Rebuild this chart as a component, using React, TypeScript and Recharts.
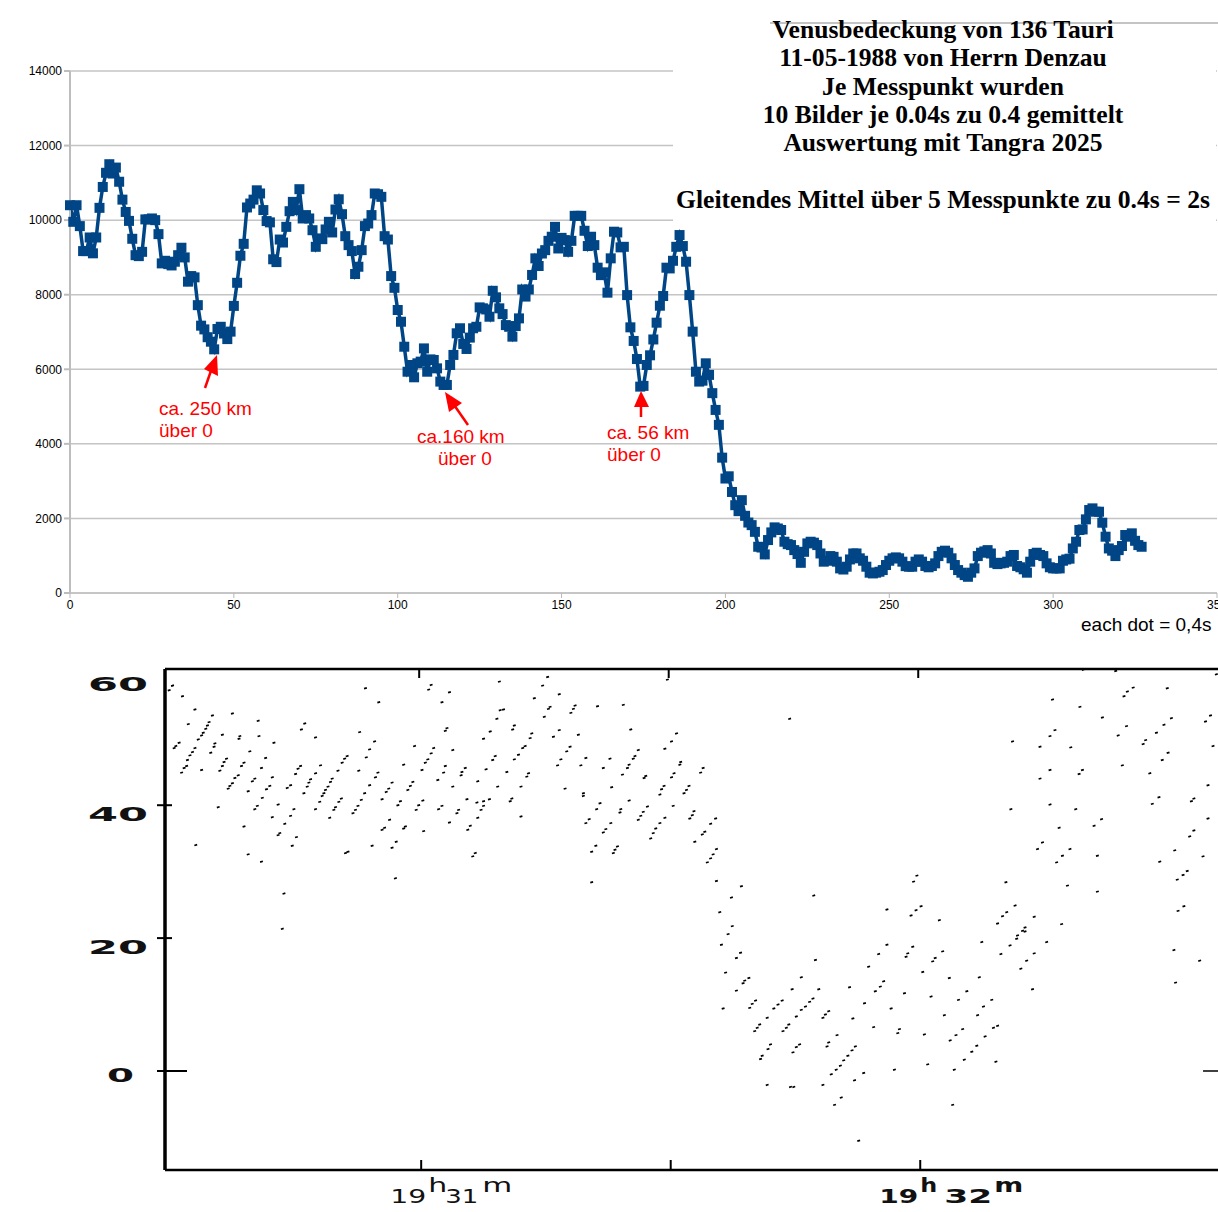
import React from 'react';
import { LineChart, Line, ScatterChart, Scatter, XAxis, YAxis, CartesianGrid, ReferenceLine } from 'recharts';

const intensityFirstDip = [
  10400, 9955, 10400, 9840, 9170, 9170, 9535, 9110, 9535, 10330, 10890, 11270, 11500, 11250, 11410, 11030,
  10550, 10220, 9980, 9500, 9060, 9035, 9150, 10020, 10020, 10045, 10000, 9625, 8840, 8910, 8820, 8785,
  8885, 9060, 9260, 9000, 8350, 8500, 8465, 7720, 7170, 7070, 6860, 6740, 6535, 7080, 7140, 6960,
  6810, 7010, 7700, 8320, 9045, 9365, 10340, 10445, 10550, 10800, 10715, 10270, 9975, 9940, 8950, 8875,
  9480, 9400, 9820, 10240, 10490,
];
const intensitySecondDip = [
  10270, 10830, 10045, 10135, 10045, 9730, 9285, 9510, 9490, 9750, 9955, 9670, 10285, 10560, 10160, 9570,
  9330, 9170, 8555, 8750, 9195, 9840, 9910, 10135, 10715, 10695, 10625, 9570, 9480, 8500, 8185, 7590,
  7275, 6605, 5935, 6115, 5785, 6160, 6205, 6560, 5935, 6265, 6250, 6025, 5670, 5580, 5580, 6115,
  6385, 6965, 7100, 6680, 6545, 6850, 7100, 7140, 7660, 7635, 7605, 7410, 8105, 7930, 7635, 7480,
  7185, 7140,
];
const intensityThirdDip = [
  6875, 7160, 7365, 8140, 7950, 8140, 8530, 8975, 8770, 9105, 9195, 9445, 9555, 9820, 9240, 9525,
  9465, 9150, 9445, 10115, 10115, 10115, 9715, 9305, 9555, 9330, 8725, 8525, 8600, 8055, 8975, 9690,
  9670, 9270, 9285, 7990, 7125, 6760, 6275, 5535, 5555, 6115, 6375, 6800, 7250, 7705, 7965, 8725,
  8705, 8910, 9285, 9600, 9305, 8885, 7990, 7010, 5935, 5670, 5695, 6160, 5850, 5360, 4910, 4510,
];
const intensityTail = [
  3630, 3070, 3130, 2710, 2355, 2195, 2490, 2070, 1890, 1820, 1640, 1240, 1220, 1035, 1420, 1625,
  1760, 1730, 1690, 1375, 1310, 1285, 1150, 1045, 810, 1105, 1330, 1375, 1350, 1285, 1060, 840,
  865, 990, 970, 840, 660, 630, 705, 900, 1060, 1060, 930, 865, 705, 545, 525, 545,
  570, 615, 750, 865, 930, 955, 930, 840, 720, 705, 705, 840, 900, 840, 725, 690,
  725, 795, 990, 1105, 1135, 1080, 930, 750, 615, 545, 480, 435, 545, 660, 990, 1080,
  1115, 1150, 1060, 810, 775, 795, 810, 840, 990, 1020, 725, 690, 635, 545, 840, 1045,
  1080, 1020, 990, 795, 690, 660, 660, 660, 865, 900, 920, 1195, 1375, 1690, 1705, 1975,
  2225, 2270, 2180, 2180, 1885, 1510, 1195, 1135, 990, 1150, 1260, 1555, 1510, 1600, 1400, 1285,
  1240,
];
const intensity = [...intensityFirstDip, ...intensitySecondDip, ...intensityThirdDip, ...intensityTail];

const pointTicks = [0, 50, 100, 150, 200, 250, 300, 350];
const intensityTicks = [0, 2000, 4000, 6000, 8000, 10000, 12000, 14000];

const titleLines = [
  'Venusbedeckung von 136 Tauri',
  '11-05-1988 von Herrn Denzau',
  'Je Messpunkt wurden',
  '10 Bilder je 0.04s zu 0.4 gemittelt',
  'Auswertung mit Tangra 2025',
  '\u00a0',
  'Gleitendes Mittel über 5 Messpunkte zu 0.4s = 2s',
];

// old photometer record: [seconds after 19h31m, km]
const dotsBeforeMinute: [number, number][] = [
  [-29.9,58],[-30.3,57.3],[-28.7,56.4],[-27.2,54.4],[-25.1,53.5],[-22.7,53.8],[-19.6,52.7],[-25.5,52.5],[-25.7,52],[-25.9,51.5],
  [-26.2,50.9],[-26.4,50.5],[-26.8,49.9],[-28,52.2],[-29.1,49.4],[-29.5,48.9],[-29.7,48.6],[-27.2,48.6],[-27.5,48],[-27.8,47.5],
  [-28.1,46.8],[-28.2,45.9],[-28.5,45.6],[-28.8,44.9],[-26.4,45.3],[-24.8,49.3],[-24.9,48.8],[-25.3,47.9],[-23.9,50.6],[-21.8,50.4],
  [-21.9,50],[-19.5,50.4],[-17.7,49.4],[-20.6,48.1],[-23.4,47],[-23.7,46.5],[-23.9,45.9],[-24.2,45.2],[-21.3,46.4],[-21.6,45.9],
  [-18.7,47.1],[-19.2,45.6],[-22,44.5],[-22.4,44.1],[-22.7,43.3],[-23,42.9],[-23.2,42.5],[-20,44],[-20.3,43.6],[-17.9,44.2],
  [-18.2,42.9],[-18.6,42.4],[-20.8,42.1],[-15.7,43],[-16.1,42.6],[-14.5,45.9],[-14.8,45.5],[-15.1,44.7],[-12.1,46],[-12.7,44.8],
  [-13.3,43.9],[-13.5,43.4],[-13.7,42.8],[-14.1,41.8],[-10.7,44],[-10.9,43.5],[-11.2,42.8],[-11.5,42.3],[-11.7,41.8],[-11.9,41.4],
  [-10,45.2],[-8.9,47.4],[-9.2,47],[-9.5,46.4],[-7.5,45.2],[-6.6,47.2],[-6.2,48.4],[-5.6,49.6],[-7.4,51],[-14,52.3],
  [-14.4,51.4],[-12.7,50.2],[-6.7,57.6],[-5.1,55.5],[-5.2,44.9],[-5.5,44.2],[-6.2,43],[-6.8,41.8],[-7.2,40.8],[-7.6,39.9],
  [-7.9,39.3],[-8.2,38.8],[-9.6,41],[-9.9,40.5],[-10.3,39.7],[-10.5,39.3],[-11,38.1],[-12.2,40.5],[-12.7,39.4],[-3.5,43.4],
  [-3.9,42.5],[-4.2,42],[-4.7,40.9],[-1,43.5],[-1.3,42.9],[-1.6,42.3],[-2.1,46.1],[-2.5,40.6],[-2.8,40],[-0.3,40],
  [-0.6,39.3],[-0.8,48.9],[-3.8,37.8],[-1.9,36.8],[-2.1,36.5],[-4.4,36.6],[-4.7,36.3],[-3,34.5],[-3.5,33.6],[-5.9,33.9],
  [-8.8,33],[-9.1,32.8],[-3.1,29],[-24.4,39.7],[-19.7,39.9],[-20,39.4],[-17.2,40.1],[-15.3,39.4],[-15.7,38.4],[-17.9,38.2],
  [-16.4,37.2],[-21.3,36.8],[-17,35.8],[-17.2,35.5],[-15,35.2],[-15.5,33.9],[-27.1,34],[-20.8,32.6],[-19.2,31.5],[-16.5,26.7],
  [-16.7,21.4],[-19.1,41.1],
];
const dotsAfterMinute: [number, number][] = [
  [1.2,58.1],[0.9,57.4],[3.4,57],[2.5,55.5],[9.4,58.6],[15.2,59.3],[14.6,58],[16.6,56.7],[13.6,56.1],[9.9,54.4],
  [9.5,54.3],[9.1,53],[15.5,54.8],[15.3,54.5],[14.8,53.3],[18.5,55],[18.3,54.5],[18,53.9],[3.1,51.6],[2.9,51.2],
  [11.2,52],[11,51.4],[8.3,51.1],[7.5,50],[13.3,50.8],[13.1,50.1],[15.9,50.3],[16.6,51.3],[18.9,50.6],[1.5,48.6],
  [1.2,47.8],[0.8,46.9],[0.5,46.4],[3.8,48.3],[12.5,48.9],[12.2,48.6],[11.7,47.6],[11.2,46.9],[8.9,47.4],[8.6,46.8],
  [17.9,48.8],[17.5,48.1],[16.8,46.9],[16.4,46],[2.9,45.9],[2.7,44.9],[5.3,45.6],[4.9,45],[4.8,44.5],[0.1,45.3],
  [2,43.8],[3.8,42.8],[6.8,43.6],[9.2,42.8],[10.3,45],[12.9,44.8],[12.7,44.3],[12,42.8],[7.8,45.4],[17.3,42.5],
  [5.5,40.9],[8.2,40.9],[7.5,40.6],[6.7,40.4],[10.9,41],[10.7,40.6],[0.2,40.7],[2.5,39.9],[2.1,39.4],[4.5,39.3],
  [4.3,38.8],[7.5,39.9],[7.2,39.3],[6.8,38.1],[12,38.3],[0.3,36.1],[3.4,37.4],[5.9,36.9],[5.6,36.3],[6.5,32.8],
  [6.2,32.3],[21.2,54.9],[24.3,55.1],[25.2,51.4],[30.7,50.8],[30.1,49.6],[29.3,48.5],[26.1,48.3],[25.7,47.4],[25.5,47],
  [25,46.1],[24.8,45.6],[24.2,44.6],[19.8,47.1],[22.7,47],[19.2,46],[21.9,45.6],[27,44.4],[26.8,44.1],[31.2,46.5],
  [31.1,46.1],[30.4,44.8],[30.1,44.2],[33.9,45.6],[33.6,44.9],[22.9,42.7],[19.5,41.8],[19.5,41.4],[29.2,42.9],[28.9,42.4],
  [28.7,41.6],[32.2,42.9],[31.9,42.3],[31.6,41.8],[25,40.7],[21.5,40.3],[21.1,39.4],[24,39.4],[23.9,38.9],[27.2,39.8],
  [26.7,39],[26.4,38.4],[26.1,37.8],[30.3,39.9],[29.3,38.1],[28.7,37.3],[28.2,36.5],[27.9,35.8],[27.6,35],[32.8,39.1],
  [32.6,38.5],[32.3,38],[35.4,38],[34.8,37.2],[34.1,36],[33.8,35.6],[32.9,34.5],[22.8,37.3],[22.2,36.4],[21.9,35.9],
  [20.2,37.9],[19.8,37.3],[21,33.9],[20.5,33],[23.6,33.8],[23.3,33.3],[23.1,32.8],[35.5,33.4],[35.1,32.6],[34.8,32],
  [34.4,31.4],[20.5,28.4],[35.5,28.6],[38.5,27.8],[37.3,26.1],[35.9,23.9],[37.4,21.8],[36.9,20.6],[47.2,26.4],[44.3,53],
  [29.6,58.9],
];
const dotsDipFloor: [number, number][] = [
  [36.1,19],[38.4,17.8],[37.9,17],[47.4,16.7],[36.6,14.8],[39.4,14],[38.9,13.6],[38.7,13.2],[45.7,14.1],[37.9,12.1],
  [44.6,12.3],[47.8,12.3],[51.5,12.6],[40.2,10.6],[39.8,10.1],[39.5,9.5],[43.4,10.6],[42.9,10],[42.4,9.4],[47.1,10.9],
  [46.7,10.4],[46.2,9.7],[45.7,9.2],[36.3,9.4],[49,9],[48.6,8.5],[48.3,8],[45.1,8.2],[41.6,8],[40.7,7],
  [40.4,6.5],[40.1,6],[44.2,7],[43.9,6.5],[43.5,6],[51.9,7.9],[50,5.4],[54.4,6.6],[57.5,6.3],[57.3,5.7],
  [60.5,5.5],[42,4],[41.7,3.3],[41,2.3],[40.8,1.8],[45.5,4],[45.1,3.6],[44.7,2.8],[49,4.3],[48.8,3.7],
  [52.2,3.7],[51.8,3.1],[51.3,2.3],[50.8,1.6],[50.4,0.8],[49.9,0.2],[49.3,-0.5],[53.2,-0.3],[52.1,-1.4],[56.9,0.2],
  [60.9,1],[64.1,0.2],[66.8,3.8],[66.2,2.9],[65.3,1.7],[69.1,1.4],[65.1,6.3],[64.3,5.4],[63.6,4.6],[69.3,6.8],
  [68.8,6.5],[67.8,5.2],[62.9,8.4],[66.9,8.4],[68.6,10.7],[67.6,9.7],[64.6,10.7],[65.6,12],[61.3,11.2],[56.5,9.4],
  [53.3,10.2],[58.1,11.7],[55.6,13.5],[55.2,12.7],[54.6,12],[63.5,14],[67.1,14.1],[60.3,14.9],[53.8,15.7],[62.7,18],
  [61.8,17],[61.5,16.5],[58.5,17.7],[58.3,17.2],[59.1,18.7],[56,19],[55,17.6],[67.4,19.4],[72.6,21],[71.6,19.9],
  [70.8,18.9],[69.7,17.6],[75.2,19.4],[73.7,17.7],[72.8,16.6],[72.1,15.4],[73.5,12.3],[90.5,18.2],[93.6,16.6],[90.7,13.3],
  [41.6,-2.1],[44.4,-2.4],[44.8,-2.4],[48.3,-2.1],[50.5,-4],[49.7,-5.1],[63.9,-5.1],[52.6,-10.5],
];
const dotsRise: [number, number][] = [
  [59.6,29.4],[59.2,28.5],[56,24.3],[60.1,24.8],[59.5,24.2],[58.9,23.4],[62.3,22.7],[70.3,28.4],[71.4,24.9],[70.4,23.9],
  [69.9,23.3],[69.3,22.2],[73.7,23.2],[72.6,21.6],[72.3,21.1],[71.7,20.4],[77,22.1],[75.9,55.9],[79.2,54.8],[81.9,53.2],
  [84.8,51.9],[83.8,50.5],[76.2,51.3],[75.6,50.4],[71.1,49.6],[74.4,48.8],[78.1,48.7],[85.6,57.7],[84.9,57.1],[84.5,56.4],
  [89.7,57.6],[83.5,60.2],[79.6,60.4],[95.6,59.7],[90.2,53.1],[89.3,52.1],[88.4,50.9],[87.1,49.8],[86.8,49.2],[94.9,53.5],
  [94.3,52.6],[89.8,47.9],[89.1,46.8],[84.3,46],[87.6,44.8],[79.5,45.3],[79.1,44.7],[75.6,45.3],[74.4,44],[95.2,48.9],
  [94.6,43],[88.7,41.2],[87.9,40.2],[92.9,41],[92.6,40.6],[70.9,39.4],[75.6,40.1],[78.7,39.4],[81.8,37.9],[80.9,36.9],
  [76.7,36.6],[94.6,38],[92.9,36.2],[92.4,35.3],[74.7,34.4],[74.1,33.4],[78,33.4],[77.1,32.4],[76.4,31.4],[81.3,32.4],
  [90.6,33.2],[88.8,31.5],[94,32.3],[92.1,30.1],[91.6,29.5],[90.9,28.8],[77.7,27.9],[81.3,27],[91.7,24.8],[91,24.1],
];
const timeTicks = [0, 30, 60];
const kmTicks = [0, 20, 40, 60];

const intensityRows = intensity.map((value, point) => ({ point, value }));
const dotRows = [...dotsBeforeMinute, ...dotsAfterMinute, ...dotsDipFloor, ...dotsRise].map(([t, km]) => ({ t, km }));

const SquareDot = (props: any) => (
  <rect key={props.index} x={props.cx - 5} y={props.cy - 5} width={10} height={10} fill="#004586" />
);

const RecordDot = (props: any) => (
  <line x1={props.cx - 1.4} y1={props.cy + 0.4} x2={props.cx + 1.4} y2={props.cy - 0.4} stroke="#000" strokeWidth={1.7} />
);

const recordFont = "'DejaVu Sans', sans-serif";

const KmTick = ({ x, y, payload }: any) => {
  const v = payload.value;
  const drop = v === 0 ? 11 : v === 60 ? 19 : 16;
  const inner = v === 60 ? 0 : v === 0 ? 30 : 15;
  return (
    <g>
      <line x1={x} y1={y} x2={x + inner} y2={y} stroke="#000" strokeWidth={2} />
      <text
        x={v === 0 ? x - 50 : x - 69}
        y={y + drop}
        fontFamily={recordFont}
        fontSize={20}
        fontWeight={700}
        fill="#111"
        textLength={v === 0 ? 27 : 60}
        lengthAdjust="spacingAndGlyphs"
      >
        {v}
      </text>
    </g>
  );
};

const TopTick = ({ x, y }: any) => <line x1={x - 2} y1={y + 8} x2={x - 2} y2={y + 17} stroke="#000" strokeWidth={2} />;

const TimeTick = ({ x, y, payload }: any) => {
  const v = payload.value;
  const mark = <line x1={x} y1={y - 8} x2={x} y2={y - 18} stroke="#000" strokeWidth={2} />;
  if (v === 30) return <g>{mark}</g>;
  const small = v === 0;
  const piece = (text: string, dx: number, w: number, dy: number) => (
    <text
      x={x + dx}
      y={y + dy}
      fontFamily={recordFont}
      fontSize={20}
      fill="#111"
      textLength={w}
      lengthAdjust="spacingAndGlyphs"
    >
      {text}
    </text>
  );
  return (
    <g fontWeight={small ? 400 : 700}>
      {mark}
      {piece('19', small ? -31 : -41, small ? 36 : 39, 25)}
      {piece('h', small ? 7 : 0, small ? 19 : 17, 14)}
      {piece(small ? '31' : '32', 24, small ? 33 : 48, 25)}
      {piece('m', small ? 61 : 74, small ? 30 : 29, 14)}
    </g>
  );
};

const redNote: React.CSSProperties = {
  position: 'absolute',
  color: '#f00',
  fontFamily: "'Liberation Sans', sans-serif",
  fontSize: 19,
  lineHeight: '22px',
  whiteSpace: 'nowrap',
};

const App = () => (
  <div style={{ position: 'absolute', left: 0, top: 0, width: 1218, height: 1212, overflow: 'hidden', background: '#fff' }}>
    <div style={{ position: 'absolute', left: 0, top: 0 }}>
      <LineChart width={1218} height={640} data={intensityRows} margin={{ top: 71, right: 1, bottom: 0, left: 0 }}>
        <CartesianGrid vertical={false} stroke="#c4c4c4" strokeWidth={1.5} />
        <XAxis
          dataKey="point"
          type="number"
          domain={[0, 350]}
          ticks={pointTicks}
          interval={0}
          height={47}
          stroke="#b8b8b8"
          tickSize={5}
          tick={{ fill: '#000', fontSize: 12, fontFamily: 'Liberation Sans' }}
        />
        <YAxis
          type="number"
          domain={[0, 14000]}
          ticks={intensityTicks}
          interval={0}
          width={70}
          stroke="#bdbdbd"
          strokeWidth={2}
          tickSize={6}
          tick={{ fill: '#000', fontSize: 12, fontFamily: 'Liberation Sans' }}
        />
        <Line
          dataKey="value"
          stroke="#004586"
          strokeWidth={3.5}
          dot={SquareDot}
          isAnimationActive={false}
        />
      </LineChart>
    </div>

    <div style={{ position: 'absolute', left: 0, top: 0 }}>
      <ScatterChart width={1218} height={1212} margin={{ top: 668, right: 0, bottom: 0, left: 0 }}>
        <XAxis
          xAxisId="bottom"
          dataKey="t"
          type="number"
          domain={[-30.8, 95.8]}
          allowDataOverflow
          ticks={timeTicks}
          interval={0}
          height={42}
          stroke="#000"
          strokeWidth={2.5}
          tickLine={false}
          tick={TimeTick}
        />
        <XAxis
          xAxisId="top"
          orientation="top"
          dataKey="t"
          type="number"
          domain={[-30.8, 95.8]}
          allowDataOverflow
          ticks={timeTicks}
          interval={0}
          height={1}
          stroke="#000"
          strokeWidth={2.5}
          tickLine={false}
          tick={TopTick}
        />
        <YAxis
          dataKey="km"
          type="number"
          domain={[-14.9, 60.5]}
          allowDataOverflow
          ticks={kmTicks}
          interval={0}
          width={165}
          stroke="#000"
          strokeWidth={3.5}
          tickLine={false}
          tick={KmTick}
        />
        <Scatter xAxisId="bottom" data={dotRows} shape={RecordDot} isAnimationActive={false} />
        <Scatter xAxisId="top" data={dotRows.slice(0, 1)} shape={RecordDot} isAnimationActive={false} />
        <ReferenceLine
          xAxisId="bottom"
          segment={[{ x: 94, y: 0 }, { x: 95.8, y: 0 }]}
          stroke="#000"
          strokeWidth={1.5}
        />
      </ScatterChart>
    </div>

    {/* pasted text block hides the upper grid lines */}
    <div style={{ position: 'absolute', left: 673, top: 24, width: 543, height: 204, background: '#fff' }} />
    <div style={{ position: 'absolute', left: 770, top: 22, width: 448, height: 1.5, background: '#c4c4c4' }} />
    <div
      style={{
        position: 'absolute',
        left: 673,
        top: 16,
        width: 540,
        textAlign: 'center',
        fontFamily: "'Liberation Serif', serif",
        fontWeight: 700,
        fontSize: 25.6,
        lineHeight: '28.3px',
        color: '#000',
        whiteSpace: 'nowrap',
      }}
    >
      {titleLines.map((line, i) => (
        <div key={i}>{line}</div>
      ))}
    </div>

    <svg width={1218} height={640} style={{ position: 'absolute', left: 0, top: 0 }}>
      <g stroke="#f00" strokeWidth={2.5} fill="#f00">
        <line x1={205} y1={388} x2={213} y2={365} />
        <polygon points="217,355 218,376 204,369" stroke="none" />
        <line x1={468} y1={425} x2={452} y2={402} />
        <polygon points="445,392 462,403 449,412" stroke="none" />
        <line x1={641} y1={417} x2={641} y2={402} />
        <polygon points="641,391 649,407 634,407" stroke="none" />
      </g>
    </svg>

    <div style={{ ...redNote, left: 159, top: 398 }}>ca. 250 km<br />über 0</div>
    <div style={{ ...redNote, left: 417, top: 426 }}>ca.160 km<br /><span style={{ marginLeft: 21 }}>über 0</span></div>
    <div style={{ ...redNote, left: 607, top: 422 }}>ca. 56 km<br />über 0</div>
    <div
      style={{
        position: 'absolute',
        left: 1081,
        top: 614,
        color: '#000',
        fontFamily: "'Liberation Sans', sans-serif",
        fontSize: 19,
        lineHeight: '22px',
        whiteSpace: 'nowrap',
      }}
    >
      each dot = 0,4s
    </div>
  </div>
);

export default App;
